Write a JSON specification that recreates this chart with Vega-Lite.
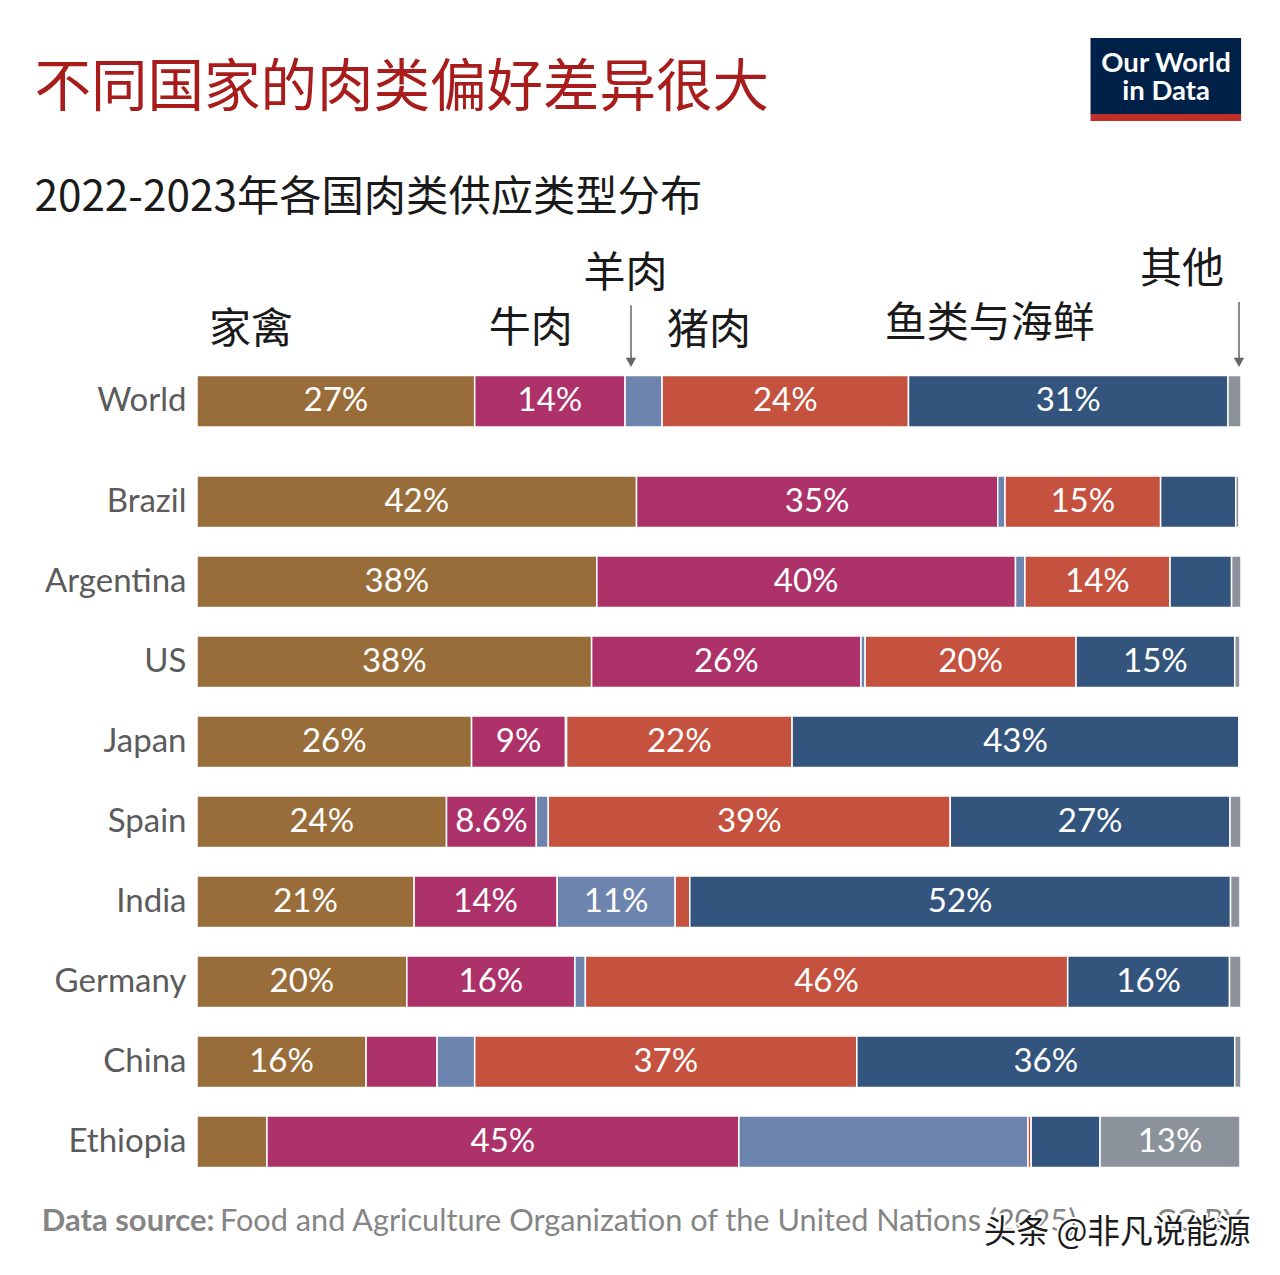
{
  "$schema": "https://vega.github.io/schema/vega-lite/v6.json",
  "background": "white",
  "padding": {"left": 34, "top": 0, "right": 0, "bottom": 0},
  "spacing": 48.5,
  "bounds": "flush",
  "config": {"view": {"stroke": null}, "font": "Lato"},
  "datasets": {
    "meat": [
      {"country": "World", "type": "家禽", "rank": 1, "value": 26.6, "label": "27%"},
      {"country": "World", "type": "牛肉", "rank": 2, "value": 14.4, "label": "14%"},
      {"country": "World", "type": "羊肉", "rank": 3, "value": 3.55, "label": ""},
      {"country": "World", "type": "猪肉", "rank": 4, "value": 23.6, "label": "24%"},
      {"country": "World", "type": "鱼类与海鲜", "rank": 5, "value": 30.6, "label": "31%"},
      {"country": "World", "type": "其他", "rank": 6, "value": 1.25, "label": ""},
      {"country": "Brazil", "type": "家禽", "rank": 1, "value": 42.1, "label": "42%"},
      {"country": "Brazil", "type": "牛肉", "rank": 2, "value": 34.6, "label": "35%"},
      {"country": "Brazil", "type": "羊肉", "rank": 3, "value": 0.7, "label": ""},
      {"country": "Brazil", "type": "猪肉", "rank": 4, "value": 14.9, "label": "15%"},
      {"country": "Brazil", "type": "鱼类与海鲜", "rank": 5, "value": 7.2, "label": ""},
      {"country": "Brazil", "type": "其他", "rank": 6, "value": 0.3, "label": ""},
      {"country": "Argentina", "type": "家禽", "rank": 1, "value": 38.3, "label": "38%"},
      {"country": "Argentina", "type": "牛肉", "rank": 2, "value": 40.1, "label": "40%"},
      {"country": "Argentina", "type": "羊肉", "rank": 3, "value": 0.9, "label": ""},
      {"country": "Argentina", "type": "猪肉", "rank": 4, "value": 13.9, "label": "14%"},
      {"country": "Argentina", "type": "鱼类与海鲜", "rank": 5, "value": 5.9, "label": ""},
      {"country": "Argentina", "type": "其他", "rank": 6, "value": 0.9, "label": ""},
      {"country": "US", "type": "家禽", "rank": 1, "value": 37.8, "label": "38%"},
      {"country": "US", "type": "牛肉", "rank": 2, "value": 25.8, "label": "26%"},
      {"country": "US", "type": "羊肉", "rank": 3, "value": 0.4, "label": ""},
      {"country": "US", "type": "猪肉", "rank": 4, "value": 20.2, "label": "20%"},
      {"country": "US", "type": "鱼类与海鲜", "rank": 5, "value": 15.2, "label": "15%"},
      {"country": "US", "type": "其他", "rank": 6, "value": 0.5, "label": ""},
      {"country": "Japan", "type": "家禽", "rank": 1, "value": 26.3, "label": "26%"},
      {"country": "Japan", "type": "牛肉", "rank": 2, "value": 9.0, "label": "9%"},
      {"country": "Japan", "type": "羊肉", "rank": 3, "value": 0.1, "label": ""},
      {"country": "Japan", "type": "猪肉", "rank": 4, "value": 21.6, "label": "22%"},
      {"country": "Japan", "type": "鱼类与海鲜", "rank": 5, "value": 42.8, "label": "43%"},
      {"country": "Japan", "type": "其他", "rank": 6, "value": 0.05, "label": ""},
      {"country": "Spain", "type": "家禽", "rank": 1, "value": 23.9, "label": "24%"},
      {"country": "Spain", "type": "牛肉", "rank": 2, "value": 8.6, "label": "8.6%"},
      {"country": "Spain", "type": "羊肉", "rank": 3, "value": 1.15, "label": ""},
      {"country": "Spain", "type": "猪肉", "rank": 4, "value": 38.5, "label": "39%"},
      {"country": "Spain", "type": "鱼类与海鲜", "rank": 5, "value": 26.8, "label": "27%"},
      {"country": "Spain", "type": "其他", "rank": 6, "value": 1.05, "label": ""},
      {"country": "India", "type": "家禽", "rank": 1, "value": 20.8, "label": "21%"},
      {"country": "India", "type": "牛肉", "rank": 2, "value": 13.7, "label": "14%"},
      {"country": "India", "type": "羊肉", "rank": 3, "value": 11.3, "label": "11%"},
      {"country": "India", "type": "猪肉", "rank": 4, "value": 1.4, "label": ""},
      {"country": "India", "type": "鱼类与海鲜", "rank": 5, "value": 51.8, "label": "52%"},
      {"country": "India", "type": "其他", "rank": 6, "value": 0.9, "label": ""},
      {"country": "Germany", "type": "家禽", "rank": 1, "value": 20.1, "label": "20%"},
      {"country": "Germany", "type": "牛肉", "rank": 2, "value": 16.1, "label": "16%"},
      {"country": "Germany", "type": "羊肉", "rank": 3, "value": 1.0, "label": ""},
      {"country": "Germany", "type": "猪肉", "rank": 4, "value": 46.2, "label": "46%"},
      {"country": "Germany", "type": "鱼类与海鲜", "rank": 5, "value": 15.5, "label": "16%"},
      {"country": "Germany", "type": "其他", "rank": 6, "value": 1.1, "label": ""},
      {"country": "China", "type": "家禽", "rank": 1, "value": 16.2, "label": "16%"},
      {"country": "China", "type": "牛肉", "rank": 2, "value": 6.8, "label": ""},
      {"country": "China", "type": "羊肉", "rank": 3, "value": 3.6, "label": ""},
      {"country": "China", "type": "猪肉", "rank": 4, "value": 36.6, "label": "37%"},
      {"country": "China", "type": "鱼类与海鲜", "rank": 5, "value": 36.2, "label": "36%"},
      {"country": "China", "type": "其他", "rank": 6, "value": 0.6, "label": ""},
      {"country": "Ethiopia", "type": "家禽", "rank": 1, "value": 6.7, "label": ""},
      {"country": "Ethiopia", "type": "牛肉", "rank": 2, "value": 45.2, "label": "45%"},
      {"country": "Ethiopia", "type": "羊肉", "rank": 3, "value": 27.7, "label": ""},
      {"country": "Ethiopia", "type": "猪肉", "rank": 4, "value": 0.3, "label": ""},
      {"country": "Ethiopia", "type": "鱼类与海鲜", "rank": 5, "value": 6.6, "label": ""},
      {"country": "Ethiopia", "type": "其他", "rank": 6, "value": 13.4, "label": "13%"}
    ]
  },
  "vconcat": [
    {
      "width": 1042,
      "height": 326.75,
      "encoding": {
        "x": {"field": "x", "type": "quantitative", "scale": {"domain": [0, 100], "nice": false, "zero": false}, "axis": null},
        "y": {"field": "y", "type": "quantitative", "scale": {"domain": [0, 100], "nice": false, "zero": false}, "axis": null}
      },
      "layer": [
        {
          "data": {"values": [{"text": "不同国家的肉类偏好差异很大", "x": -15.6, "y": 72.7}]},
          "mark": {"type": "text", "align": "left", "baseline": "middle", "font": "Noto Sans CJK SC", "fontSize": 56.5, "color": "#a81c1c"},
          "encoding": {"text": {"field": "text"}}
        },
        {
          "data": {"values": [{"text": "2022-2023年各国肉类供应类型分布", "x": -15.6, "y": 39.4}]},
          "mark": {"type": "text", "align": "left", "baseline": "middle", "font": "Noto Sans CJK SC", "fontSize": 42.3, "color": "#1a1a1a"},
          "encoding": {"text": {"field": "text"}}
        },
        {
          "data": {"values": [
            {"text": "家禽", "x": 1.15, "y": -1.0},
            {"text": "牛肉", "x": 28.0, "y": -0.7},
            {"text": "羊肉", "x": 37.1, "y": 16.2},
            {"text": "猪肉", "x": 45.1, "y": -1.3},
            {"text": "鱼类与海鲜", "x": 66.0, "y": 0.8},
            {"text": "其他", "x": 90.5, "y": 17.4}
          ]},
          "mark": {"type": "text", "align": "left", "baseline": "middle", "font": "Noto Sans CJK SC", "fontSize": 42, "color": "#1a1a1a"},
          "encoding": {"text": {"field": "text"}}
        },
        {
          "data": {"values": [
            {"x": 41.65, "y": 6.6, "y2": -10},
            {"x": 100, "y": 7.6, "y2": -10}
          ]},
          "mark": {"type": "rule", "color": "#666666", "strokeWidth": 1.5},
          "encoding": {"y2": {"field": "y2"}}
        },
        {
          "data": {"values": [
            {"x": 41.65, "y": -10.9},
            {"x": 100, "y": -10.9}
          ]},
          "mark": {"type": "point", "shape": "triangle-down", "filled": true, "color": "#666666", "size": 110, "opacity": 1}
        },
        {
          "data": {"values": [{"x": 85.75, "x2": 100.2, "y": 88.4, "y2": 65.1}]},
          "mark": {"type": "rect", "color": "#002147"},
          "encoding": {"x2": {"field": "x2"}, "y2": {"field": "y2"}}
        },
        {
          "data": {"values": [{"x": 85.75, "x2": 100.2, "y": 65.1, "y2": 63}]},
          "mark": {"type": "rect", "color": "#c0302b"},
          "encoding": {"x2": {"field": "x2"}, "y2": {"field": "y2"}}
        },
        {
          "data": {"values": [
            {"text": "Our World", "x": 93.0, "y": 80.5},
            {"text": "in Data", "x": 93.0, "y": 71.9}
          ]},
          "mark": {"type": "text", "align": "center", "baseline": "middle", "font": "Lato", "fontWeight": "bold", "fontSize": 27.5, "color": "white"},
          "encoding": {"text": {"field": "text"}}
        }
      ]
    },
    {
      "width": 1044,
      "height": 51.5,
      "data": {"name": "meat"},
      "transform": [{"filter": "datum.country === 'World'"}],
      "encoding": {
        "y": {
          "field": "country",
          "type": "nominal",
          "title": null,
          "scale": {"paddingInner": 0, "paddingOuter": 0},
          "axis": {"domain": false, "ticks": false, "labelFont": "Lato", "labelFontSize": 33, "labelColor": "#5b5b5b", "labelPadding": 11}
        },
        "x": {"field": "value", "type": "quantitative", "stack": "zero", "scale": {"domain": [0, 100], "nice": false}, "axis": null},
        "order": {"field": "rank", "type": "quantitative"}
      },
      "layer": [
        {
          "mark": {"type": "bar", "stroke": "white", "strokeWidth": 1.5},
          "encoding": {
            "color": {
              "field": "type",
              "type": "nominal",
              "legend": null,
              "scale": {
                "domain": ["家禽", "牛肉", "羊肉", "猪肉", "鱼类与海鲜", "其他"],
                "range": ["#996d39", "#ac3269", "#6d85ae", "#c5523e", "#33557d", "#8c929b"]
              }
            }
          }
        },
        {
          "mark": {"type": "text", "font": "Lato", "fontSize": 33, "color": "white", "baseline": "middle", "align": "center"},
          "encoding": {
            "x": {"field": "value", "type": "quantitative", "stack": "zero", "bandPosition": 0.5, "scale": {"domain": [0, 100], "nice": false}, "axis": null},
            "detail": {"field": "type"},
            "text": {"field": "label"}
          }
        }
      ]
    },
    {
      "width": 1044,
      "height": 691.5,
      "data": {"name": "meat"},
      "transform": [{"filter": "datum.country !== 'World'"}],
      "encoding": {
        "y": {
          "field": "country",
          "type": "nominal",
          "title": null,
          "sort": ["Brazil", "Argentina", "US", "Japan", "Spain", "India", "Germany", "China", "Ethiopia"],
          "scale": {"paddingInner": 0.35625, "paddingOuter": 0},
          "axis": {"domain": false, "ticks": false, "labelFont": "Lato", "labelFontSize": 33, "labelColor": "#5b5b5b", "labelPadding": 11}
        },
        "x": {"field": "value", "type": "quantitative", "stack": "zero", "scale": {"domain": [0, 100], "nice": false}, "axis": null},
        "order": {"field": "rank", "type": "quantitative"}
      },
      "layer": [
        {
          "mark": {"type": "bar", "stroke": "white", "strokeWidth": 1.5},
          "encoding": {
            "color": {
              "field": "type",
              "type": "nominal",
              "legend": null,
              "scale": {
                "domain": ["家禽", "牛肉", "羊肉", "猪肉", "鱼类与海鲜", "其他"],
                "range": ["#996d39", "#ac3269", "#6d85ae", "#c5523e", "#33557d", "#8c929b"]
              }
            }
          }
        },
        {
          "mark": {"type": "text", "font": "Lato", "fontSize": 33, "color": "white", "baseline": "middle", "align": "center"},
          "encoding": {
            "x": {"field": "value", "type": "quantitative", "stack": "zero", "bandPosition": 0.5, "scale": {"domain": [0, 100], "nice": false}, "axis": null},
            "detail": {"field": "type"},
            "text": {"field": "label"}
          }
        }
      ]
    },
    {
      "width": 1042,
      "height": 40,
      "encoding": {
        "x": {"field": "x", "type": "quantitative", "scale": {"domain": [0, 100], "nice": false, "zero": false}, "axis": null},
        "y": {"field": "y", "type": "quantitative", "scale": {"domain": [0, 100], "nice": false, "zero": false}, "axis": null}
      },
      "layer": [
        {
          "data": {"values": [{"text": "Data source:", "x": -14.9, "y": 87}]},
          "mark": {"type": "text", "align": "left", "baseline": "middle", "font": "Lato", "fontWeight": "bold", "fontSize": 31, "color": "#858585"},
          "encoding": {"text": {"field": "text"}}
        },
        {
          "data": {"values": [
            {"text": "Food and Agriculture Organization of the United Nations (2025)", "x": 2.2, "y": 87},
            {"text": "CC BY", "x": 92, "y": 87}
          ]},
          "mark": {"type": "text", "align": "left", "baseline": "middle", "font": "Lato", "fontSize": 30.7, "color": "#858585"},
          "encoding": {"text": {"field": "text"}}
        },
        {
          "data": {"values": [{"text": "头条 @非凡说能源", "x": 75.5, "y": 60}]},
          "mark": {"type": "text", "align": "left", "baseline": "middle", "font": "Noto Sans CJK SC", "fontSize": 32.7, "color": "white", "stroke": "white", "strokeWidth": 4},
          "encoding": {"text": {"field": "text"}}
        },
        {
          "data": {"values": [{"text": "头条 @非凡说能源", "x": 75.5, "y": 60}]},
          "mark": {"type": "text", "align": "left", "baseline": "middle", "font": "Noto Sans CJK SC", "fontSize": 32.7, "color": "#1c1c1c"},
          "encoding": {"text": {"field": "text"}}
        }
      ]
    }
  ]
}
